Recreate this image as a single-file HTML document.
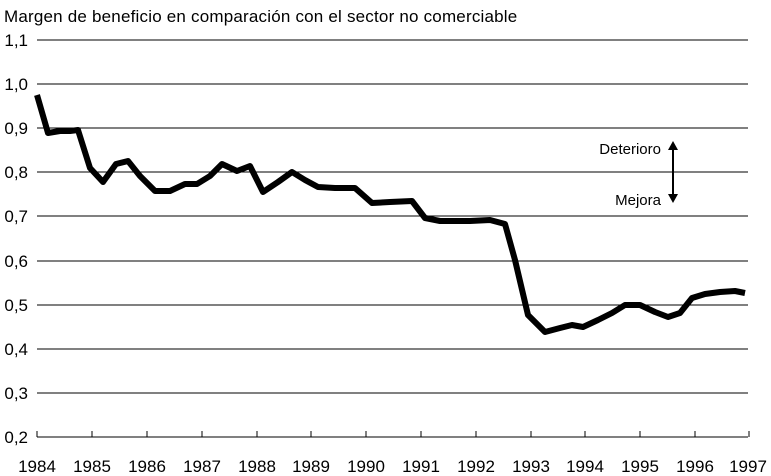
<!DOCTYPE html>
<html><head><meta charset="utf-8"><style>body{margin:0;background:#fff}svg{display:block}text{font-family:"Liberation Sans",Arial,sans-serif;font-size:17px;fill:#000}</style></head>
<body>
<svg width="771" height="476" viewBox="0 0 771 476">
<text x="4" y="22" style="letter-spacing:0.2px">Margen de beneficio en comparación con el sector no comerciable</text>
<g stroke="#000" stroke-width="1">
<line x1="37" y1="40" x2="748" y2="40"/>
<line x1="37" y1="84" x2="748" y2="84"/>
<line x1="37" y1="128" x2="748" y2="128"/>
<line x1="37" y1="172" x2="748" y2="172"/>
<line x1="37" y1="216" x2="748" y2="216"/>
<line x1="37" y1="261" x2="748" y2="261"/>
<line x1="37" y1="305" x2="748" y2="305"/>
<line x1="37" y1="349" x2="748" y2="349"/>
<line x1="37" y1="393" x2="748" y2="393"/>
<line x1="37" y1="437" x2="748" y2="437"/>
<path d="M37 437v-6M92 437v-6M147 437v-6M202 437v-6M257 437v-6M311 437v-6M366 437v-6M421 437v-6M476 437v-6M531 437v-6M585 437v-6M640 437v-6M695 437v-6M749 437v-6"/>
<line x1="673" y1="145" x2="673" y2="198" stroke-width="2"/>
</g>
<path d="M668 150l5-9 5 9zM668 194l5 9 5-9z" fill="#000"/>
<g text-anchor="end">
<text x="28" y="46">1,1</text><text x="28" y="90">1,0</text><text x="28" y="134">0,9</text><text x="28" y="178">0,8</text><text x="28" y="222">0,7</text><text x="28" y="267">0,6</text><text x="28" y="311">0,5</text><text x="28" y="355">0,4</text><text x="28" y="399">0,3</text><text x="28" y="443">0,2</text>
<text x="661" y="154" style="font-size:15px">Deterioro</text><text x="661" y="205" style="font-size:15px">Mejora</text>
</g>
<g text-anchor="middle">
<text x="37" y="472">1984</text><text x="92" y="472">1985</text><text x="147" y="472">1986</text><text x="202" y="472">1987</text><text x="257" y="472">1988</text><text x="311" y="472">1989</text><text x="366" y="472">1990</text><text x="421" y="472">1991</text><text x="476" y="472">1992</text><text x="531" y="472">1993</text><text x="585" y="472">1994</text><text x="640" y="472">1995</text><text x="695" y="472">1996</text><text x="748" y="472">1997</text>
</g>
<polyline fill="none" stroke="#000" stroke-width="6" stroke-linejoin="round" points="37,95 48,133 60,131 70,131 78,130 90,168 103,182 116,164 128,161 140,176 155,191 170,191 185,184 197,184 210,176 222,164 237,171 250,166 263,192 278,182 292,172 305,180 318,187 335,188 355,188 372,203 390,202 412,201 425,218 440,221 470,221 490,220 505,224 515,260 528,315 545,332 560,328 572,325 583,327 598,320 612,313 625,305 640,305 655,312 668,317 680,313 692,298 705,294 720,292 735,291 745,293"/>
</svg>
</body></html>
